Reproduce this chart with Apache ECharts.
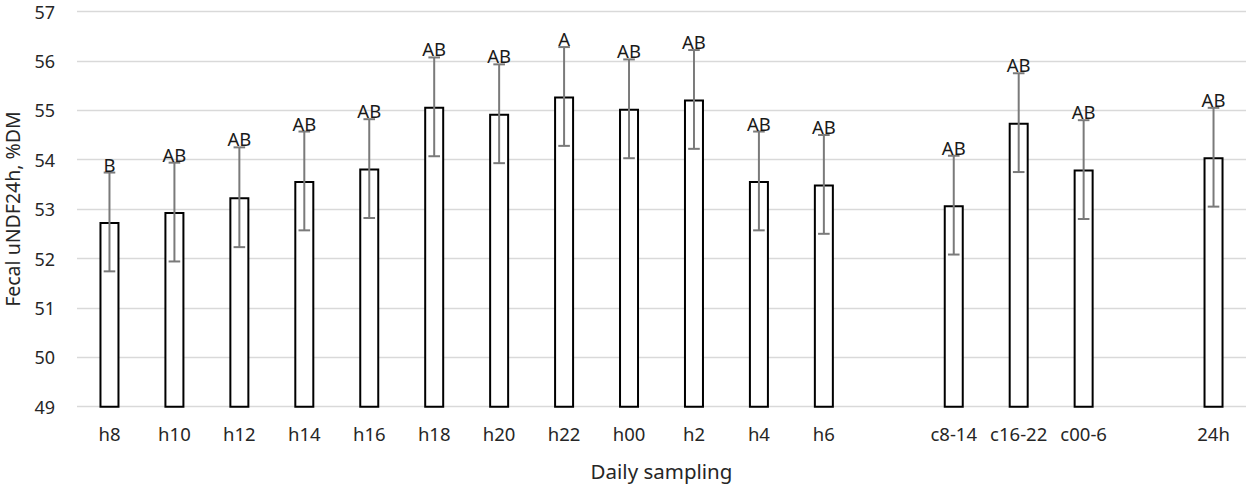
<!DOCTYPE html>
<html>
<head>
<meta charset="utf-8">
<script src="https://cdn.jsdelivr.net/npm/echarts@6/dist/echarts.min.js"></script>
<style>html,body{margin:0;padding:0;background:#fff}#c{width:1248px;height:486px}</style>
</head>
<body>
<div id="c"></div>
<script>
var categories = ['h8','h10','h12','h14','h16','h18','h20','h22','h00','h2','h4','h6','','c8-14','c16-22','c00-6','','24h'];
var means = [52.74,52.94,53.24,53.57,53.82,55.07,54.93,55.28,55.03,55.22,53.57,53.50,null,53.08,54.75,53.80,null,54.05];
var errors = [1.0,1.0,1.01,1.0,1.0,1.0,1.0,1.0,1.0,1.0,1.0,1.0,null,1.0,1.0,1.0,null,1.0];
var letters = ['B','AB','AB','AB','AB','AB','AB','A','AB','AB','AB','AB','','AB','AB','AB','','AB'];
var yTicks = [49,50,51,52,53,54,55,56,57];

var FONT = 'Noto Sans';
var errData = [];
for (var i = 0; i < categories.length; i++) {
  if (means[i] != null) errData.push([i, means[i] - errors[i], means[i] + errors[i], letters[i]]);
}

var chart = echarts.init(document.getElementById('c'), null, {renderer: 'svg'});
chart.setOption({
  animation: false,
  textStyle: {fontFamily: FONT},
  grid: {left: 77, right: 2, top: 11.5, bottom: 79.3, containLabel: false, outerBoundsMode: 'none'},
  xAxis: {
    type: 'category',
    data: categories,
    axisLine: {show: false},
    axisTick: {show: false},
    axisLabel: {color: '#262626', fontSize: 18.5, fontFamily: FONT, margin: 17, interval: 0},
    name: 'Daily sampling',
    nameLocation: 'middle',
    nameGap: 54,
    nameTextStyle: {color: '#262626', fontSize: 20.5, fontFamily: FONT}
  },
  yAxis: {
    type: 'value',
    min: yTicks[0],
    max: yTicks[yTicks.length - 1],
    interval: 1,
    axisLine: {show: false},
    axisTick: {show: false},
    splitLine: {lineStyle: {color: '#d9d9d9', width: 1.3}},
    axisLabel: {color: '#262626', fontSize: 18, lineHeight: 18, fontFamily: FONT, margin: 22},
    name: 'Fecal uNDF24h, %DM',
    nameLocation: 'middle',
    nameGap: 55,
    nameTextStyle: {color: '#262626', fontSize: 19.5, fontFamily: FONT}
  },
  series: [
    {
      type: 'bar',
      data: means,
      barWidth: 20,
      itemStyle: {color: '#ffffff', borderColor: '#000000', borderWidth: 2},
      z: 2
    },
    {
      type: 'custom',
      data: errData,
      z: 3,
      encode: {x: 0, y: [1, 2]},
      renderItem: function (params, api) {
        var x = api.value(0);
        var lo = api.coord([x, api.value(1)]);
        var hi = api.coord([x, api.value(2)]);
        var cap = 5.8;
        var st = {stroke: '#7a7a7a', lineWidth: 2};
        return {
          type: 'group',
          children: [
            {type: 'line', shape: {x1: hi[0], y1: hi[1], x2: lo[0], y2: lo[1]}, style: st},
            {type: 'line', shape: {x1: hi[0] - cap, y1: hi[1], x2: hi[0] + cap, y2: hi[1]}, style: st},
            {type: 'line', shape: {x1: lo[0] - cap, y1: lo[1], x2: lo[0] + cap, y2: lo[1]}, style: st},
            {type: 'text', x: hi[0], y: hi[1] - 8.5, style: {text: api.value(3), fill: '#1a1a1a', font: '18.5px "' + FONT + '"', align: 'center', verticalAlign: 'middle'}}
          ]
        };
      }
    }
  ]
});
</script>
</body>
</html>
